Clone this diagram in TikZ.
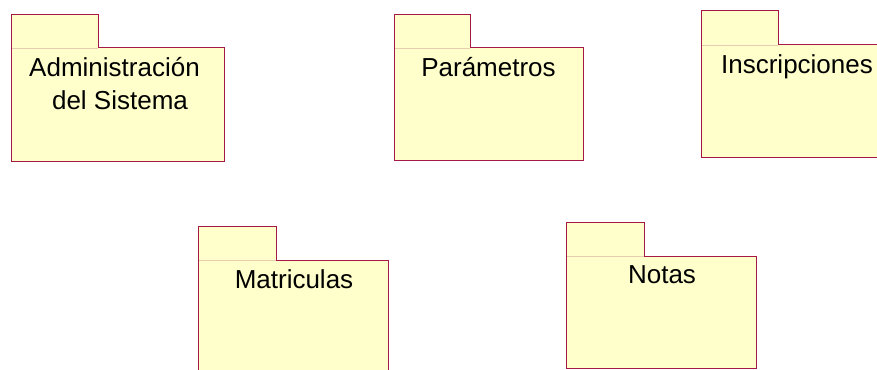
\documentclass[tikz,border=0pt]{standalone}
\usepackage{fontspec}
\setmainfont{Liberation Sans}
\definecolor{pkgline}{RGB}{165,25,70}
\definecolor{pkgfill}{RGB}{255,255,204}
\definecolor{pkgfaint}{RGB}{230,205,175}
\tikzset{
  pkgbody/.style={fill=pkgfill, rectangle, inner sep=0pt, outer sep=0pt, anchor=north west},
  pkgtab/.style={fill=pkgfill, rectangle, inner sep=0pt, outer sep=0pt, anchor=south west},
  pkgoutline/.style={draw=pkgline, line width=1pt, line join=miter},
  pkgsep/.style={draw=pkgfaint, line width=0.6pt},
  pkgtext/.style={font=\fontsize{26}{29}\selectfont, text=black, anchor=base, inner sep=0pt},
}
\newcommand\umlpkg[7]{%
  \node[pkgbody, minimum width=#4pt, minimum height=#5pt] (#1) at (#2,#3) {};
  \node[pkgtab, minimum width=#6pt, minimum height=#7pt] (#1tab) at (#1.north west) {};
  \draw[pkgsep] (#1tab.south west) -- (#1tab.south east);
  \draw[pkgoutline] (#1.south west) -- (#1tab.north west) -- (#1tab.north east)
     -- (#1tab.south east) -- (#1.north east) -- (#1.south east) -- cycle;
}
\begin{document}
\begin{tikzpicture}[x=1pt, y=-1pt]
  \useasboundingbox (0,0) rectangle (877,369);
  \clip (0,0) rectangle (877,369);
  \umlpkg{admin}{11}{48}{213}{113}{87}{33}
  \umlpkg{param}{394}{48}{189}{112}{76}{33}
  \umlpkg{insc}{701}{45}{190}{112}{77}{34}
  \umlpkg{matr}{198}{260}{190}{112}{78}{34}
  \umlpkg{notas}{566}{256}{190}{112}{78}{34}
  \node[pkgtext] (admintxta) at (114.5,77) {Administración};
  \node[pkgtext] (admintxtb) at (120,109) {del Sistema};
  \node[pkgtext] (paramtxt) at (488.5,76) {Parámetros};
  \node[pkgtext] (insctxt) at (797,73) {Inscripciones};
  \node[pkgtext] (matrtxt) at (294,288) {Matriculas};
  \node[pkgtext] (notastxt) at (662,283.5) {Notas};
\end{tikzpicture}
\end{document}
